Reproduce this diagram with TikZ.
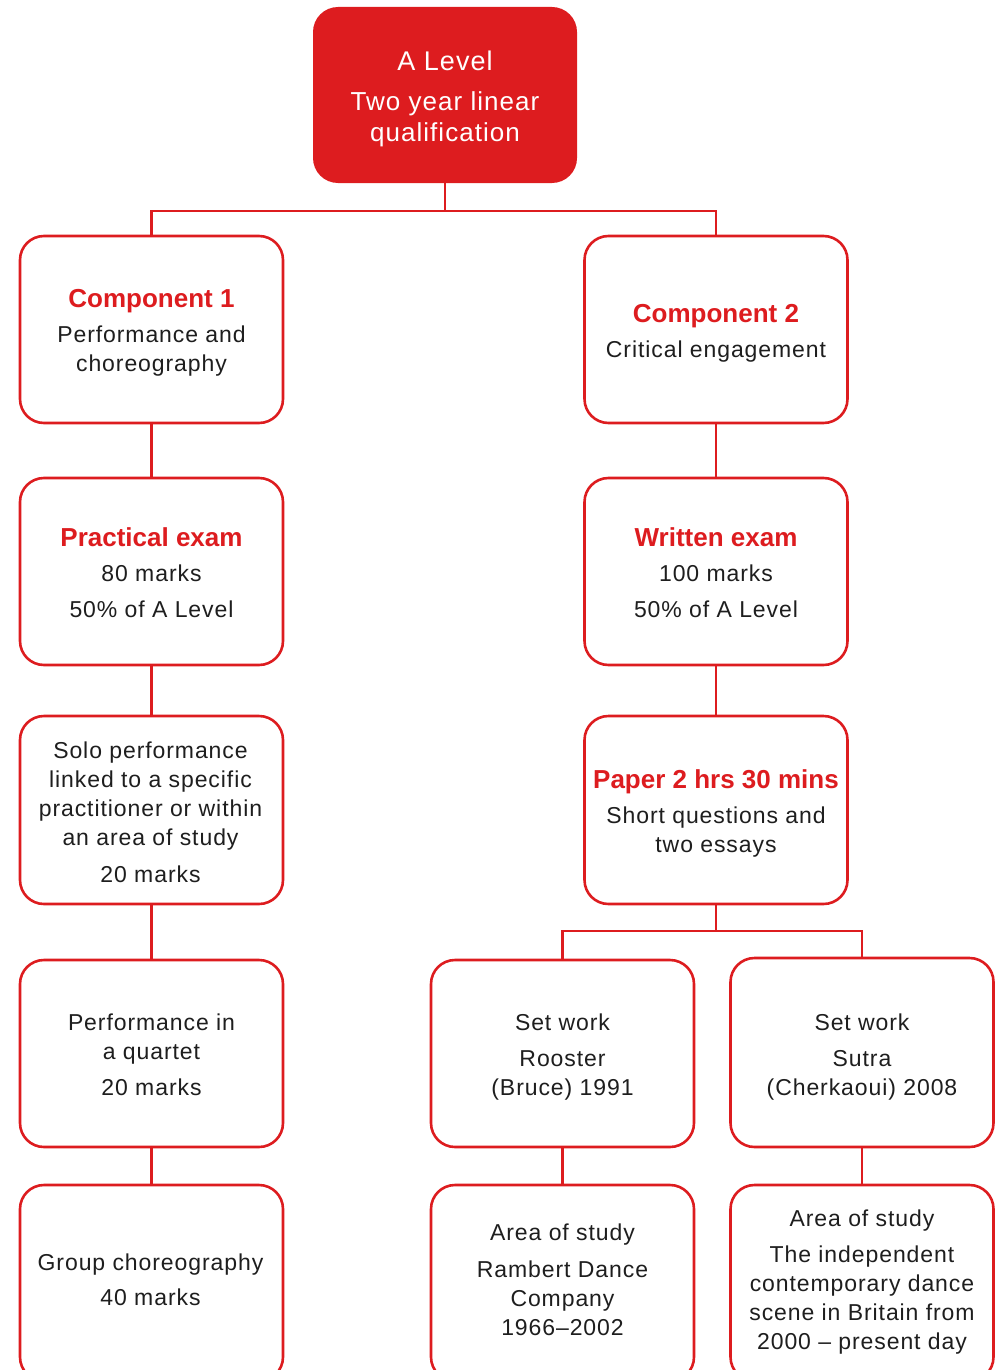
\documentclass[tikz,border=0pt]{standalone}
\usepackage{fontspec}
\setmainfont{Liberation Sans}[LetterSpace=4]
\newfontfamily\tfont{Liberation Sans}
\definecolor{aqared}{HTML}{DD1C1F}
\definecolor{ink}{HTML}{1E1E1E}
\newcommand\ttl[1]{{\tfont\bfseries\fontsize{26}{29}\selectfont\color{aqared}#1}}
\tikzset{
  box/.style={draw=aqared, line width=2.6pt, rounded corners=24pt, fill=white,
    minimum width=263pt, minimum height=187pt, inner sep=0pt},
  txt/.style={align=center, text=ink, inner sep=0pt, font=\fontsize{23}{29}\selectfont},
  topbox/.style={fill=aqared, rounded corners=25pt, minimum width=264pt,
    minimum height=176pt, inner sep=0pt},
  toptxt/.style={align=center, text=white, inner sep=0pt,
    font=\fontsize{26}{31}\selectfont},
  link/.style={draw=aqared, line width=2.6pt},
}
\begin{document}
\begin{tikzpicture}[x=1pt,y=-1pt]
\useasboundingbox (0,0) rectangle (1000,1370);
\clip (0,0) rectangle (1000,1370);
\node[topbox] (top) at (445,95) {};
\node[toptxt] (topt) at ([yshift=-4pt]top.center) {{\fontsize{27}{31}\selectfont A Level}\\[9pt]Two year linear\\qualification};

\node[box] (c1) at (151.5,329.5) {};
\node[box] (c2) at (716,329.5) {};
\node[box] (pe) at (151.5,571.5) {};
\node[box] (we) at (716,571.5) {};
\node[box, minimum height=188pt] (solo) at (151.5,810) {};
\node[box, minimum height=188pt] (paper) at (716,810) {};
\node[box] (quart) at (151.5,1053.5) {};
\node[box] (roost) at (562.5,1053.5) {};
\node[box, minimum height=189pt] (sutra) at (862,1052.5) {};
\node[box, minimum height=196pt] (group) at (151.5,1283) {};
\node[box, minimum height=196pt] (ramb) at (562.5,1283) {};
\node[box, minimum height=196pt] (indep) at (862,1283) {};

\node[txt] (c1t) at ([yshift=-3pt]c1.center) {\ttl{Component 1}\\[6pt]Performance and\\choreography};
\node[txt] (c2t) at ([yshift=-4pt]c2.center) {\ttl{Component 2}\\[6pt]Critical engagement};
\node[txt] (pet) at ([yshift=-1pt]pe.center) {\ttl{Practical exam}\\[6pt]80 marks\\[7pt]50\% of A Level};
\node[txt] (wet) at ([yshift=-1pt]we.center) {\ttl{Written exam}\\[6pt]100 marks\\[7pt]50\% of A Level};
\node[txt] (solot) at ([yshift=-2pt,xshift=-1pt]solo.center) {Solo performance\\linked to a specific\\practitioner or within\\an area of study\\[8pt]20 marks};
\node[txt] (papert) at ([yshift=-3pt]paper.center) {\ttl{Paper 2 hrs 30 mins}\\[6pt]Short questions and\\two essays};
\node[txt] (quartt) at ([yshift=-1pt]quart.center) {Performance in\\a quartet\\[7pt]20 marks};
\node[txt] (roostt) at ([yshift=-4pt]roost.center) {Set work\\[7pt]Rooster\\(Bruce) 1991};
\node[txt] (sutrat) at ([yshift=-5pt]sutra.center) {Set work\\[7pt]Sutra\\(Cherkaoui) 2008};
\node[txt] (groupt) at ([yshift=3pt,xshift=-1pt]group.center) {Group choreography\\[6pt]40 marks};
\node[txt] (rambt) at ([yshift=3pt]ramb.center) {Area of study\\[8pt]Rambert Dance\\Company\\1966–2002};
\node[txt] (indept) at ([yshift=1pt]indep.center) {Area of study\\[7pt]The independent\\contemporary dance\\scene in Britain from\\2000 – present day};

\coordinate (j1) at (445,211);
\coordinate (j2) at (716,931);
\draw[link] (top.south) -- (j1);
\draw[link] (c1.north) |- (j1) -| (c2.north);
\draw[link] (c1) -- (pe);
\draw[link] (pe) -- (solo);
\draw[link] (solo) -- (quart);
\draw[link] (quart) -- (group);
\draw[link] (c2) -- (we);
\draw[link] (we) -- (paper);
\draw[link] (paper.south) -- (j2);
\draw[link] (roost.north) |- (j2) -| (sutra.north);
\draw[link] (roost) -- (ramb);
\draw[link] (sutra) -- (indep);
\end{tikzpicture}
\end{document}
